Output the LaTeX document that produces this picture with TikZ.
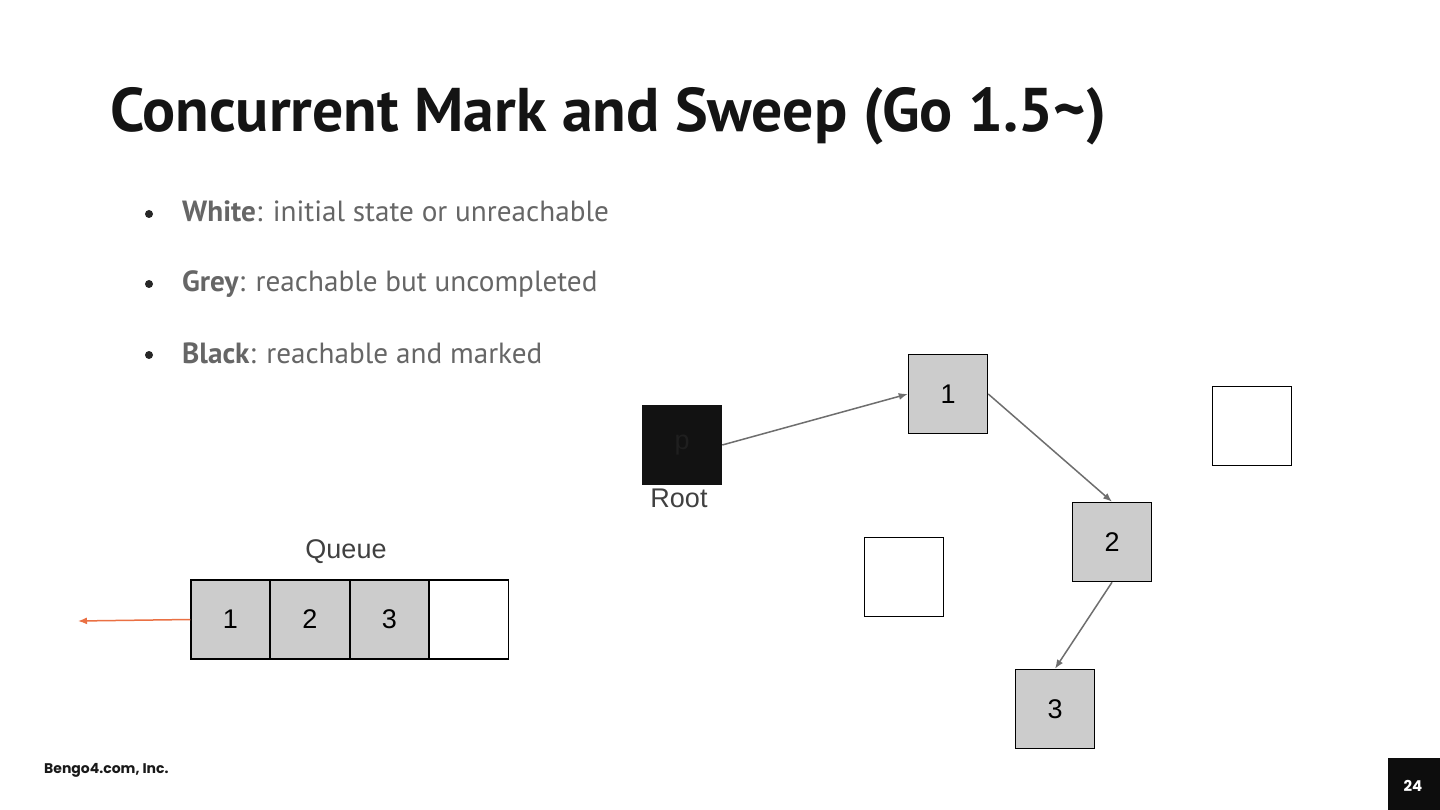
\documentclass[tikz,border=0pt]{standalone}
\usepackage{fontspec}
\setmainfont{PT Sans}
\newfontfamily\arialf{Liberation Sans}
\newfontfamily\popf{Poppins}
\usetikzlibrary{arrows.meta}
\definecolor{boxgrey}{HTML}{CCCCCC}
\definecolor{txtgrey}{HTML}{666666}
\definecolor{arrgrey}{HTML}{6E6E6E}
\definecolor{orangec}{HTML}{EA7043}
\tikzset{
  obj/.style={draw=black, line width=1.5pt, minimum width=79pt, minimum height=79pt, inner sep=0pt, font=\arialf\fontsize{27}{30}\selectfont},
  greyobj/.style={obj, fill=boxgrey},
  whiteobj/.style={obj, fill=white},
  ptr/.style={draw=arrgrey, line width=1.5pt, -{Latex[length=9pt,width=7pt]}},
  bullettxt/.style={anchor=base west, inner sep=0pt, text=txtgrey, font=\fontsize{29.2}{33}\selectfont},
  dotb/.style={circle, fill=black!85, inner sep=0pt, minimum size=8pt}
}
\begin{document}
\begin{tikzpicture}[x=1pt,y=-1pt]
\useasboundingbox (0,0) rectangle (1440,810);
\fill[white] (0,0) rectangle (1440,810);
% title
\node[anchor=base west, inner sep=0pt, text=black!92, font=\fontsize{61.7}{70}\selectfont\bfseries] (title) at (110,132) {Concurrent Mark and Sweep (Go 1.5\char"007E)};
% bullets
\node[dotb] (d1) at (149,214) {};
\node[dotb] (d2) at (149,284) {};
\node[dotb] (d3) at (149,355) {};
\node[bullettxt] (b1) at (182,222) {\textbf{White}: initial state or unreachable};
\node[bullettxt] (b2) at (182,292) {\textbf{Grey}: reachable but uncompleted};
\node[bullettxt] (b3) at (182,363) {\textbf{Black}: reachable and marked};
% graph
\node[obj, fill=black!93, draw=black!93, text=black!88] (p) at (682,445) {p};
\node[anchor=north, inner sep=0pt, text=black!75, font=\arialf\fontsize{27}{30}\selectfont] (root) at (679,489) {Root};
\node[greyobj] (n1) at (948,394) {1};
\node[greyobj] (n2) at (1112,542) {2};
\node[greyobj] (n3) at (1055,709) {3};
\node[whiteobj] (w1) at (1252,426) {};
\node[whiteobj] (w2) at (904,577) {};
\draw[ptr] (p.east) -- (n1.west);
\draw[ptr] (n1.east) -- (n2.north);
\draw[ptr] (n2.south) -- (n3.north);
% queue
\node[greyobj] (q1) at (230.5,619.5) {1};
\node[greyobj] (q2) at (310,619.5) {2};
\node[greyobj] (q3) at (389.5,619.5) {3};
\node[whiteobj] (q4) at (469,619.5) {};
\node[anchor=base, inner sep=0pt, text=black!75, font=\arialf\fontsize{27}{30}\selectfont] (qlabel) at (346,558) {Queue};
\coordinate (qout) at (78,621);
\draw[draw=orangec, line width=1.5pt, -{Latex[length=9pt,width=7pt]}] (q1.west) -- (qout);
% footer
\node[anchor=base west, inner sep=0pt, font=\popf\fontsize{14}{16}\selectfont\bfseries, text=black!90] (foot) at (44,773) {Bengo4.com, Inc.};
\fill[black!95] (1388,758) rectangle (1440,810);
\node[inner sep=0pt, font=\popf\fontsize{15}{18}\selectfont\bfseries, text=white] (pg) at (1413,786) {24};
\end{tikzpicture}
\end{document}
